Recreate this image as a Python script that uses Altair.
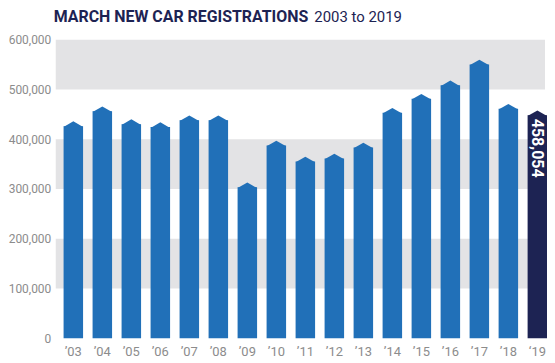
import altair as alt
import pandas as pd

years = ["’03", "’04", "’05", "’06", "’07", "’08", "’09", "’10", "’11", "’12",
         "’13", "’14", "’15", "’16", "’17", "’18", "‘19"]
values = [436000, 466000, 440000, 434000, 448000, 448000, 313000, 397000, 365000,
          371000, 393000, 463000, 491000, 518000, 560000, 471000, 458054]
highlight = [False] * 16 + [True]
band_lo = [100000, 300000, 500000]
band_hi = [200000, 400000, 600000]
y_ticks = [0, 100000, 200000, 300000, 400000, 500000, 600000]
title_bold = "MARCH NEW CAR REGISTRATIONS"
title_rest = "2003 to 2019"

PEAK = 9600  # data units for the pointed top (~4.8 px)

df = pd.DataFrame({"year": years, "value": values, "current": highlight})
bands = pd.DataFrame({"lo": band_lo, "hi": band_hi})

W = 494
H = 300
BLUE = "#2170b8"
NAVY = "#1d2353"
GREY = "#8c8c8c"

xscale = alt.Scale(domain=years, paddingInner=0.335, paddingOuter=0.137, align=1)
yscale = alt.Scale(domain=[0, 600000], nice=False)

yaxis = alt.Axis(title=None, values=y_ticks, format=",.0f", grid=False,
                 ticks=False, domain=False, labelColor=GREY,
                 labelFont="Roboto", labelFontSize=12, labelPadding=5)
xaxis = alt.Axis(title=None, labelAngle=0, ticks=False, domain=False,
                 labelColor=GREY, labelFont="Roboto", labelFontSize=13,
                 labelPadding=7)

base = alt.Chart(df).transform_calculate(shoulder=f"datum.value - {PEAK}")

band_layer = alt.Chart(bands).mark_rect(color="#e3e3e5").encode(
    y=alt.Y("lo:Q", scale=yscale, axis=yaxis),
    y2="hi:Q",
    x=alt.value(0),
    x2=alt.value(W - 2),
)

color = alt.Color("current:N", scale=alt.Scale(domain=[False, True], range=[BLUE, NAVY]), legend=None)

bars = base.mark_bar(size=19.6).encode(
    x=alt.X("year:N", scale=xscale, sort=years, axis=xaxis),
    y=alt.Y("shoulder:Q", scale=yscale, axis=yaxis),
    color=color,
)

tips = base.mark_point(
    shape="M-1,0.08L0,-0.49L1,0.08Z", filled=True, opacity=1, size=384, strokeWidth=0
).encode(
    x=alt.X("year:N", scale=xscale, sort=years, axis=xaxis),
    y=alt.Y("shoulder:Q", scale=yscale, axis=yaxis),
    color=color,
)

label = alt.Chart(df).transform_filter("datum.current").transform_calculate(
    pos="datum.value - 17000",
    txt="format(datum.value, ',')",
).mark_text(angle=90, align="left", baseline="middle", color="white",
            font="Roboto", fontWeight="bold", fontSize=16).encode(
    x=alt.X("year:N", scale=xscale, sort=years, axis=xaxis),
    y=alt.Y("pos:Q", scale=yscale, axis=yaxis),
    text="txt:N",
)

t1 = alt.Chart(pd.DataFrame({"t": [title_bold]})).mark_text(
    align="left", baseline="alphabetic", font="Roboto", fontSize=16,
    fontWeight="bold", color=NAVY
).encode(x=alt.value(-2), y=alt.value(-18), text="t:N")

t2 = alt.Chart(pd.DataFrame({"t": [title_rest]})).mark_text(
    align="left", baseline="alphabetic", font="Roboto", fontSize=15, color=NAVY
).encode(x=alt.value(260), y=alt.value(-18), text="t:N")

chart = alt.layer(band_layer, bars, tips, label, t1, t2).properties(
    width=W, height=H,
    autosize=alt.AutoSizeParams(type="none"),
    padding={"left": 48, "top": 31, "right": 0, "bottom": 24},
).configure_view(stroke=None)

chart.save("out.html", embed_options={"renderer": "svg", "actions": False})
